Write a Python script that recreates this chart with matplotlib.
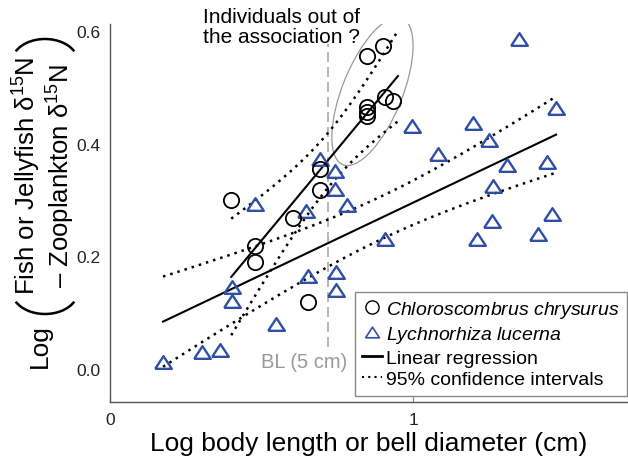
import numpy as np
import matplotlib
matplotlib.use("Agg")
import matplotlib.pyplot as plt
from matplotlib.lines import Line2D
from matplotlib.patches import Ellipse, Arc
from matplotlib.transforms import ScaledTranslation, IdentityTransform

plt.rcParams['font.family'] = ['Liberation Sans', 'DejaVu Sans']
plt.rcParams['mathtext.fontset'] = 'custom'
plt.rcParams['mathtext.rm'] = 'Liberation Sans'
plt.rcParams['mathtext.it'] = 'Liberation Sans:italic'

# Chloroscombrus chrysurus (fish)
fish_x = [0.399, 0.479, 0.479, 0.603, 0.693, 0.693, 0.653,
          0.847, 0.901, 0.847, 0.847, 0.847, 0.908, 0.933]
fish_y = [0.300, 0.218, 0.190, 0.268, 0.318, 0.355, 0.119,
          0.556, 0.573, 0.465, 0.456, 0.449, 0.484, 0.476]

# Lychnorhiza lucerna (jellyfish)
jelly_x = [0.175, 0.304, 0.363, 0.403, 0.403, 0.479, 0.548, 0.647, 0.653, 0.693,
           0.743, 0.743, 0.782, 0.746, 0.746, 0.908, 0.997, 1.083, 1.198, 1.251,
           1.211, 1.261, 1.264, 1.310, 1.350, 1.413, 1.442, 1.459, 1.472]
jelly_y = [0.012, 0.030, 0.034, 0.146, 0.121, 0.293, 0.080, 0.281, 0.165, 0.373,
           0.352, 0.320, 0.291, 0.172, 0.140, 0.231, 0.431, 0.382, 0.437, 0.407,
           0.231, 0.263, 0.325, 0.362, 0.587, 0.240, 0.367, 0.275, 0.463]

fish_fit_range = [0.40, 0.95]
jelly_fit_range = [0.175, 1.472]
t_fish = 2.179   # t(0.975, 12)
t_jelly = 2.052  # t(0.975, 27)

bl_x = 0.72
bl_span = [0.039, 0.577]

BLUE = '#2f4fa6'


def fit_with_ci(x, y, x_range, t_val):
    x = np.asarray(x)
    y = np.asarray(y)
    slope, intercept = np.polyfit(x, y, 1)
    xs = np.linspace(x_range[0], x_range[1], 120)
    fit = intercept + slope * xs
    resid = y - (intercept + slope * x)
    s = np.sqrt(np.sum(resid ** 2) / (len(x) - 2))
    sxx = np.sum((x - x.mean()) ** 2)
    half = t_val * s * np.sqrt(1 / len(x) + (xs - x.mean()) ** 2 / sxx)
    return xs, fit, fit - half, fit + half


fig = plt.figure(figsize=(6.28, 4.6), dpi=100)
ax = fig.add_axes([110 / 628, 57 / 460, 517 / 628, 378 / 460])
ax.set_xlim(0, 1.706)
ax.set_ylim(-0.0586, 0.6128)

dots = (0, (1, 2))
for xs_, ys_, rng, t in [(fish_x, fish_y, fish_fit_range, t_fish),
                         (jelly_x, jelly_y, jelly_fit_range, t_jelly)]:
    xs, fit, lo, hi = fit_with_ci(xs_, ys_, rng, t)
    ax.plot(xs, fit, color='black', lw=1.5, zorder=2)
    ax.plot(xs, lo, color='black', lw=1.8, ls=dots, zorder=2)
    ax.plot(xs, hi, color='black', lw=1.8, ls=dots, zorder=2)

# body length threshold
ax.plot([bl_x, bl_x], bl_span, color='#aaaaaa', lw=1.2, ls=(0, (6, 3)), zorder=1)
ax.text(0.642, 0.014, 'BL (5 cm)', color='#999999', fontsize=14.5,
        ha='center', va='center')

tri = [(-1, -0.76), (1, -0.76), (0, 0.76), (-1, -0.76)]
ax.plot(jelly_x, jelly_y, ls='none', marker=tri, ms=12, mfc='none',
        mec=BLUE, mew=1.7, zorder=3)
ax.plot(fish_x, fish_y, ls='none', marker='o', ms=11, mfc='none',
        mec='black', mew=1.3, zorder=4)

# outliers ellipse
ell = Ellipse((0, 0), 60, 158, angle=-22, fill=False, ec='#999999', lw=0.9,
              transform=ScaledTranslation(0.866, 0.493, ax.transData))
ax.add_patch(ell)
ax.text(0.307, 0.609, 'Individuals out of\nthe association ?', fontsize=15,
        ha='left', va='center', linespacing=1.05, clip_on=False)

for side in ['top', 'right']:
    ax.spines[side].set_visible(False)
for side in ['left', 'bottom']:
    ax.spines[side].set_color('#555555')
    ax.spines[side].set_linewidth(1.0)

ax.set_xticks([0, 1])
ax.set_xticklabels(['0', '1'])
ax.set_yticks([0, 0.2, 0.4, 0.6])
ax.set_yticklabels(['0.0', '0.2', '0.4', '0.6'])
ax.tick_params(axis='x', direction='in', length=4, color='#888888',
               labelsize=12.5, pad=7, labelcolor='#222222')
ax.tick_params(axis='y', length=0, labelsize=12.5, pad=7, labelcolor='#222222')
ax.set_xlabel('Log body length or bell diameter (cm)', fontsize=19, labelpad=3)

# y label pieces
fig.text(40 / 628, 1 - 346 / 460, 'Log', rotation=90, fontsize=19,
         ha='center', va='center')
fig.text(44 / 628, 1 - 176 / 460,
         'Fish or Jellyfish δ$^{15}$N\n– Zooplankton δ$^{15}$N',
         rotation=90, fontsize=18.5, ha='center', va='center',
         multialignment='center', linespacing=1.05)
fig.add_artist(Arc((45, 168), 66, 46, theta1=200, theta2=340, lw=1.8,
                   color='black', transform=IdentityTransform()))
fig.add_artist(Arc((45, 397), 66, 46, theta1=20, theta2=160, lw=1.8,
                   color='black', transform=IdentityTransform()))

handles = [
    Line2D([], [], ls='none', marker='o', ms=9.5, mfc='none', mec='black', mew=1.0),
    Line2D([], [], ls='none', marker=tri, ms=10, mfc='none', mec=BLUE, mew=1.2),
    Line2D([], [], color='black', lw=2),
    Line2D([], [], color='black', lw=1.5, ls=dots),
]
labels = ['$\\it{Chloroscombrus\\ chrysurus}$', '$\\it{Lychnorhiza\\ lucerna}$',
          'Linear regression', '95% confidence intervals']
leg = ax.legend(handles, labels, loc='lower right', bbox_to_anchor=(1.0, 0.016),
                borderaxespad=0, fontsize=14, handlelength=1.0,
                handletextpad=0.2, labelspacing=0.2, borderpad=0.4,
                fancybox=False, edgecolor='#888888', framealpha=1)
leg.get_frame().set_linewidth(1.0)

fig.savefig('out.png', dpi=100)
